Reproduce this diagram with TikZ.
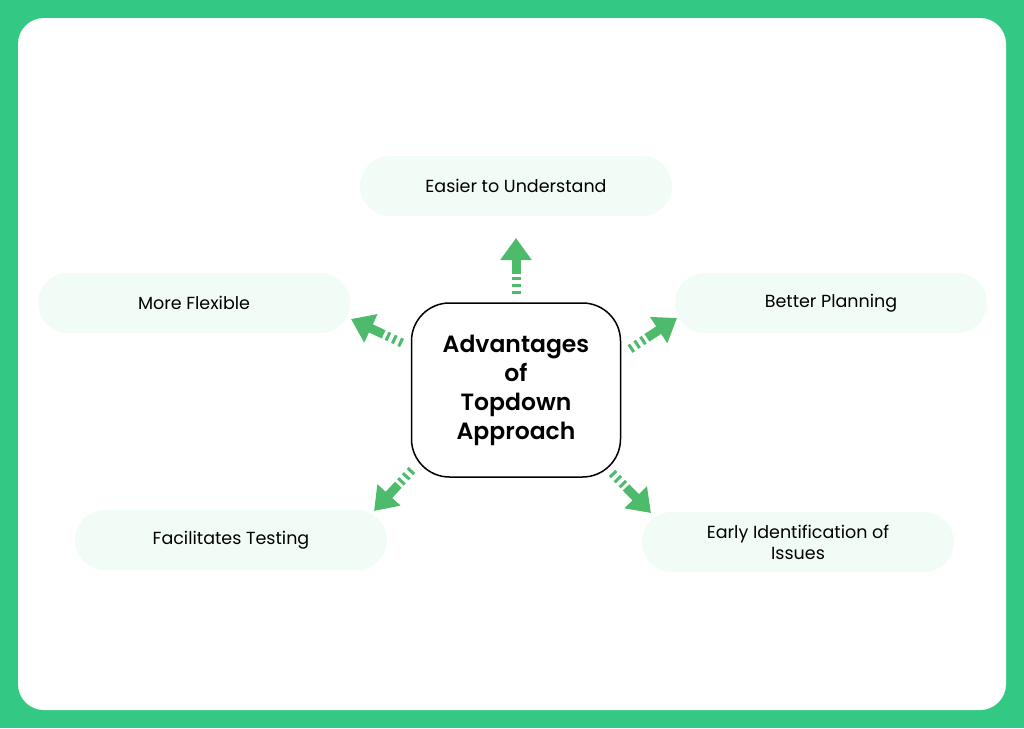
\documentclass[tikz,border=0pt]{standalone}
\usepackage{fontspec}
\setmainfont{Poppins}
\newfontfamily\hubfont{Poppins SemiBold}
\usepackage{tikz}
\usetikzlibrary{arrows.meta, positioning, calc}

\definecolor{framegreen}{HTML}{33C985}
\definecolor{arrowgreen}{HTML}{4DBA6C}
\definecolor{pillfill}{HTML}{F1FCF6}

\tikzset{
  pill/.style={fill=pillfill, rounded corners=30pt, minimum width=312pt,
    minimum height=60pt, align=center, font=\fontsize{17.5}{21}\selectfont},
  hub/.style={draw=black, line width=1.5pt, rounded corners=38pt, fill=white,
    minimum width=209pt, minimum height=174pt, align=center,
    font=\hubfont\fontsize{23.5}{29}\selectfont},
  dashpart/.style={arrowgreen, line width=9pt, dash pattern=on 3pt off 4pt},
  headpart/.style={arrowgreen, line width=9pt, -{Triangle[width=30pt,length=22pt]}},
}

\begin{document}
\begin{tikzpicture}[x=1pt, y=-1pt]
% frame
\fill[framegreen] (0,0) rectangle (1024,728);
\fill[white, rounded corners=26pt] (18,18) rectangle (1006,710);
\useasboundingbox (0,0) rectangle (1024,728);

% hub
\node[hub] (adv) at (516,390) {Advantages\\of\\Topdown\\Approach};

% leaves
\node[pill] (easy) at (516,186) {Easier to Understand};
\node[pill] (flex) at (194,303) {More Flexible};
\node[pill] (plan) at (831,303) {Better Planning};
\node[pill] (test) at (231,540) {Facilitates Testing};
\node[pill] (early) at (798,542) {Early Identification of\\Issues};

% arrow ends
\coordinate (s1) at (516,294); \coordinate (t1) at (516,238);
\coordinate (s2) at (402,343); \coordinate (t2) at (351,319);
\coordinate (s3) at (630,349); \coordinate (t3) at (677,318);
\coordinate (s4) at (412,470); \coordinate (t4) at (374,511);
\coordinate (s5) at (612,473); \coordinate (t5) at (651,513);

% arrows
\foreach \i in {1,...,5} {
  \draw[dashpart] (s\i) -- ($(s\i)!0.36!(t\i)$);
  \draw[headpart] ($(s\i)!0.36!(t\i)$) -- (t\i);
}
\end{tikzpicture}
\end{document}
